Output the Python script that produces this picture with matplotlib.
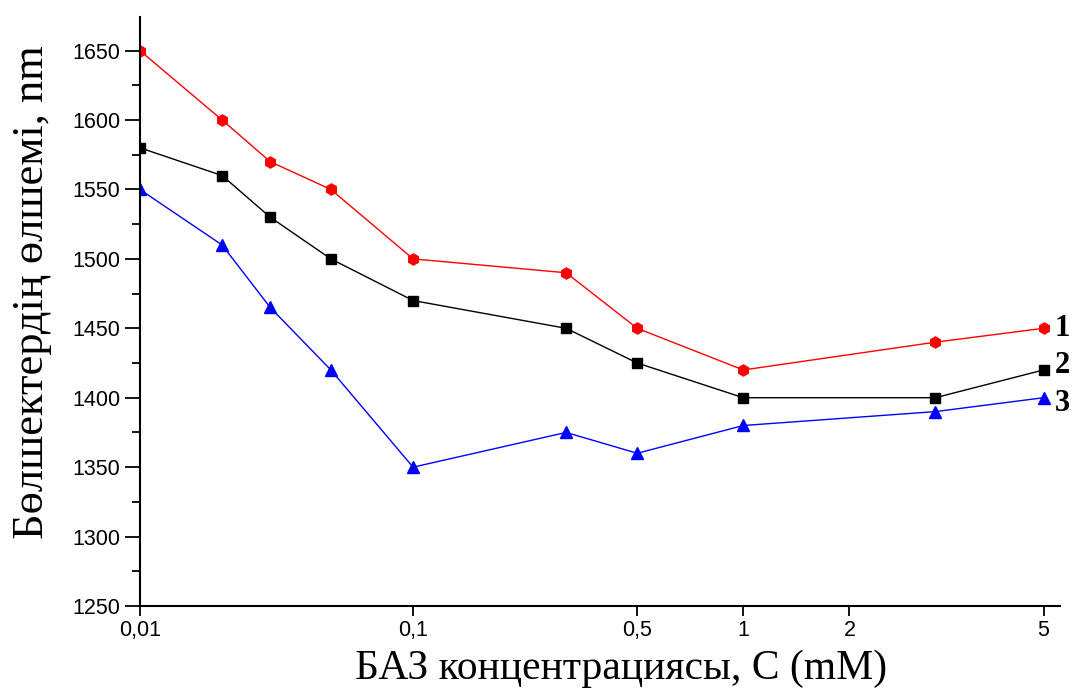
import numpy as np
import matplotlib
matplotlib.use("Agg")
from matplotlib import pyplot as plt
from matplotlib.ticker import FixedLocator, MultipleLocator

# concentrations, mM
conc = [0.01, 0.02, 0.03, 0.05, 0.1, 0.3, 0.5, 1, 3, 5]
size1 = [1650, 1600, 1570, 1550, 1500, 1490, 1450, 1420, 1440, 1450]
size2 = [1580, 1560, 1530, 1500, 1470, 1450, 1425, 1400, 1400, 1420]
size3 = [1550, 1510, 1465, 1420, 1350, 1375, 1360, 1380, 1390, 1400]

xticks = [0.01, 0.1, 0.5, 1, 2, 5]
xticklabels = ["0,01", "0,1", "0,5", "1", "2", "5"]

# the original axis is not a plain log axis, piecewise in log10
anchor_x = np.log10([0.01, 0.1, 0.5, 1, 2, 5, 10])
anchor_p = np.array([0, 273, 497, 603, 709, 903, 1050], dtype=float)


def fwd(x):
    x = np.clip(np.asarray(x, dtype=float), 1e-6, None)
    return np.interp(np.log10(x), anchor_x, anchor_p)


def inv(p):
    return 10 ** np.interp(np.asarray(p, dtype=float), anchor_p, anchor_x)


fig = plt.figure(figsize=(10.76, 6.91), dpi=100)
ax = fig.add_axes([0.130, 0.123, 0.855, 0.852])

ax.plot(conc, size1, color="red", lw=1.0, marker="h", ms=8, mec="red")
ax.plot(conc, size2, color="black", lw=1.0, marker="s", ms=7)
ax.plot(conc, size3, color="blue", lw=1.0, marker="^", ms=9)

ax.set_xscale("function", functions=(fwd, inv))
ax.set_xlim(0.01, 5.4)
ax.set_ylim(1250, 1674)

ax.xaxis.set_major_locator(FixedLocator(xticks))
ax.xaxis.set_minor_locator(FixedLocator([]))
ax.set_xticklabels(xticklabels)
ax.set_yticks(range(1250, 1651, 50))
ax.yaxis.set_minor_locator(MultipleLocator(25))

for s in ["top", "right"]:
    ax.spines[s].set_visible(False)
for s in ["left", "bottom"]:
    ax.spines[s].set_linewidth(1.5)

ax.tick_params(axis="y", which="major", direction="out", length=11, width=1.3,
               labelsize=15.5, pad=3)
ax.tick_params(axis="y", which="minor", direction="out", length=6, width=1.3)
ax.tick_params(axis="x", which="major", direction="out", length=7, width=1.3,
               labelsize=15.5, pad=3)
for lab in ax.get_xticklabels() + ax.get_yticklabels():
    lab.set_fontfamily("Liberation Sans")

ax.set_xlabel("БАЗ концентрациясы, С (mM)", family="Liberation Serif",
              fontsize=30)
ax.set_ylabel("Бөлшектердің өлшемі, nm", family="Liberation Serif",
              fontsize=32)
ax.xaxis.set_label_coords(0.523, -0.074)
ax.yaxis.set_label_coords(-0.096, 0.533)

# curve numbers at the right end, spread a little so they do not touch
for num, y, dy in zip(["1", "2", "3"], [size1[-1], size2[-1], size3[-1]],
                      [0, 3, -4]):
    ax.annotate(num, (conc[-1], y), xytext=(8, dy), textcoords="offset points",
                family="Liberation Serif", fontweight="bold", fontsize=22,
                va="center", ha="left", annotation_clip=False)

fig.savefig("out.png", dpi=100)
